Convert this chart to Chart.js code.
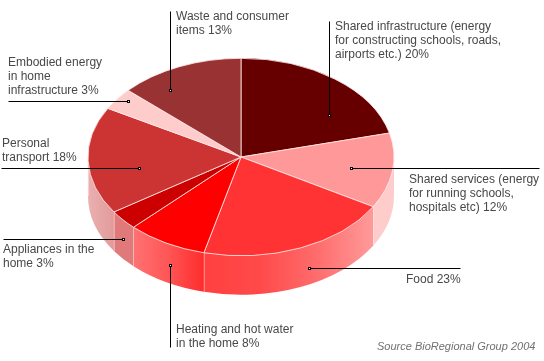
<!DOCTYPE html>
<html>
<head>
<meta charset="utf-8">
<style>
  html, body { margin: 0; padding: 0; background: #fff; }
  canvas { display: block; }
</style>
<script src="https://cdn.jsdelivr.net/npm/chart.js@4/dist/chart.umd.js"></script>
</head>
<body>
<canvas id="grafico" width="544" height="361"></canvas>
<script>
const categories = ["Shared infrastructure", "Shared services", "Food", "Heating and hot water", "Appliances", "Personal transport", "Embodied energy", "Waste and consumer items"];
// percentages as printed on the labels
const percentages = [20, 12, 23, 8, 3, 18, 3, 13];
// wedge sizes: the drawn wedges do not quite follow the printed numbers
const wedgeShares = [21.1, 12.3, 20.5, 8.5, 3.2, 17.6, 3.6, 13.2];
const topColours = ["#660000", "#ff9999", "#ff3333", "#ff0000", "#cc0000", "#cc3333", "#ffcccc", "#993333"];
// wall colours left to right for the slices on the front of the pie
const wallColours = {
    1: ["#ffcccc", "#ffcccc"],
    2: ["#ff4040", "#ff4a4a", "#ff6c6c", "#ff9a9a"],
    3: ["#ff7272", "#ff5555", "#ff2c2c"],
    4: ["#e07a7a", "#e07a7a"],
    5: ["#eab0b0", "#e29a9a"]
};
const labelLines = [
    ["Shared infrastructure (energy", "for constructing schools, roads,", "airports etc.) "],
    ["Shared services (energy", "for running schools,", "hospitals etc) "],
    ["Food "],
    ["Heating and hot water", "in the home "],
    ["Appliances in the", "home "],
    ["Personal", "transport "],
    ["Embodied energy", "in home", "infrastructure "],
    ["Waste and consumer", "items "]
];
const labelX = [335, 409, 406, 176, 3, 2, 8, 176];
const labelY = [30, 183, 283, 333, 253, 147, 66, 20];
// marker x, marker y, far end x, far end y
const leaders = [
    [329, 115, 329, 21],
    [351, 168, 539, 168],
    [309, 268, 460, 268],
    [170, 265, 170, 347],
    [123, 239, 3, 239],
    [139, 168, 1, 168],
    [128, 101, 8, 101],
    [170, 90, 170, 11]
];

const squash = 0.645;
const wallDepth = 39;
const pieCentreX = 241;
const pieCentreY = 157;

const pie3d = {
    id: "pie3d",
    beforeDatasetsDraw(chart) {
        const ctx = chart.ctx;
        const arcs = chart.getDatasetMeta(0).data;
        const r = arcs[0].outerRadius;
        const ry = r * squash;
        ctx.save();
        arcs.forEach((arc, i) => {
            const a0 = Math.max(arc.startAngle, 0);
            const a1 = Math.min(arc.endAngle, Math.PI);
            const cols = wallColours[i];
            if (!cols || a1 <= a0) return;
            const xa = pieCentreX + r * Math.cos(a0);
            const xb = pieCentreX + r * Math.cos(a1);
            const grad = ctx.createLinearGradient(Math.min(xa, xb), 0, Math.max(xa, xb), 0);
            cols.forEach((c, n) => grad.addColorStop(n / (cols.length - 1), c));
            ctx.beginPath();
            ctx.ellipse(pieCentreX, pieCentreY, r, ry, 0, a0, a1);
            ctx.ellipse(pieCentreX, pieCentreY + wallDepth, r, ry, 0, a1, a0, true);
            ctx.closePath();
            ctx.fillStyle = grad;
            ctx.fill();
            ctx.strokeStyle = "#fff2f2";
            ctx.lineWidth = 1;
            ctx.beginPath();
            ctx.moveTo(xb, pieCentreY + ry * Math.sin(a1));
            ctx.lineTo(xb, pieCentreY + ry * Math.sin(a1) + wallDepth);
            ctx.stroke();
        });
        ctx.restore();
        ctx.save();
        ctx.translate(pieCentreX, pieCentreY);
        ctx.scale(1, squash);
        ctx.translate(-arcs[0].x, -arcs[0].y);
    },
    afterDatasetsDraw(chart) {
        const ctx = chart.ctx;
        ctx.restore();
        ctx.save();
        ctx.font = "12px 'Liberation Sans', Arial, sans-serif";
        ctx.fillStyle = "#484848";
        ctx.textBaseline = "alphabetic";
        labelLines.forEach((lines, i) => {
            lines.forEach((t, j) => {
                const text = j === lines.length - 1 ? t + percentages[i] + "%" : t;
                ctx.fillText(text, labelX[i], labelY[i] + j * 14);
            });
        });
        ctx.font = "italic 11px 'Liberation Sans', Arial, sans-serif";
        ctx.fillStyle = "#707070";
        ctx.fillText("Source BioRegional Group 2004", 377, 350);
        ctx.strokeStyle = "#000000";
        ctx.lineWidth = 1;
        leaders.forEach((l) => {
            ctx.beginPath();
            ctx.moveTo(l[0] + 0.5, l[1] + 0.5);
            ctx.lineTo(l[2] + 0.5, l[3] + 0.5);
            ctx.stroke();
            ctx.fillStyle = "#000000";
            ctx.fillRect(l[0] - 1, l[1] - 1, 3, 3);
            ctx.fillStyle = "#ffffff";
            ctx.fillRect(l[0], l[1], 1, 1);
        });
        ctx.restore();
    }
};

new Chart(document.getElementById("grafico"), {
    type: "pie",
    data: {
        labels: categories,
        datasets: [{
            data: wedgeShares,
            backgroundColor: topColours,
            borderColor: "#ffe6e6",
            borderWidth: 1
        }]
    },
    options: {
        responsive: false,
        animation: false,
        radius: 153,
        plugins: { legend: { display: false }, tooltip: { enabled: false } }
    },
    plugins: [pie3d]
});
</script>
</body>
</html>
